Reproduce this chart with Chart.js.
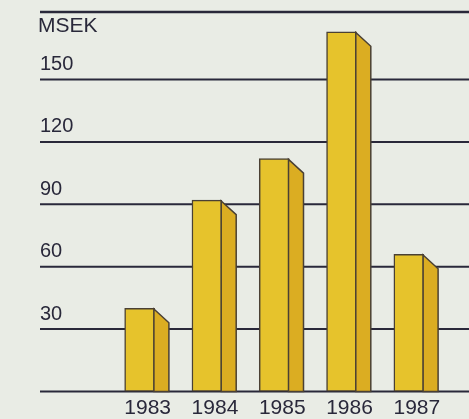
<!DOCTYPE html>
<html>
<head>
<meta charset="utf-8">
<script src="https://cdn.jsdelivr.net/npm/chart.js@4/dist/chart.umd.min.js"></script>
<style>
  html, body { margin: 0; padding: 0; background: #e9ece5; }
  canvas { display: block; }
</style>
</head>
<body>
<canvas id="chart" width="469" height="419"></canvas>
<script>
// Annual figures, MSEK
const years = ['1983', '1984', '1985', '1986', '1987'];
const salesMsek = [40, 92, 112, 173, 66];
const tickValues = [30, 60, 90, 120, 150];
const unitLabel = 'MSEK';

const INK = '#29283a';
const FRONT = '#e6c32c';
const SIDE = '#dbad22';
const EDGE = '#4a4034';
const FONT = '"Liberation Sans", Arial, sans-serif';
const DEPTH_X = 15;
const DEPTH_Y = 14.5;

// Horizontal rules (gridlines, baseline, header rule) and the unit label, behind the bars
const rules = {
  id: 'rules',
  beforeDatasetsDraw(chart) {
    const { ctx, scales: { y }, chartArea, width } = chart;
    const x0 = y.left;
    ctx.save();
    ctx.strokeStyle = INK;
    const line = (py, lw) => {
      ctx.lineWidth = lw;
      ctx.beginPath();
      ctx.moveTo(x0, py);
      ctx.lineTo(width, py);
      ctx.stroke();
    };
    tickValues.forEach(v => line(y.getPixelForValue(v), 2));
    line(y.getPixelForValue(0), 2);
    line(chartArea.top, 2.5);
    ctx.fillStyle = INK;
    ctx.font = '21px ' + FONT;
    ctx.textAlign = 'left';
    ctx.textBaseline = 'alphabetic';
    ctx.fillText(unitLabel, x0 - 2, 32);
    ctx.restore();
  }
};

// Shaded side face giving each bar its depth
const sideFaces = {
  id: 'sideFaces',
  afterDatasetsDraw(chart) {
    const { ctx } = chart;
    const meta = chart.getDatasetMeta(0);
    ctx.save();
    ctx.fillStyle = SIDE;
    ctx.strokeStyle = EDGE;
    ctx.lineWidth = 1.5;
    ctx.lineJoin = 'miter';
    meta.data.forEach(bar => {
      const { x, y, base, width } = bar.getProps(['x', 'y', 'base', 'width'], true);
      const r = x + width / 2 - 0.75;
      ctx.beginPath();
      ctx.moveTo(r, y + 0.75);
      ctx.lineTo(r + DEPTH_X, y + DEPTH_Y);
      ctx.lineTo(r + DEPTH_X, base);
      ctx.lineTo(r, base);
      ctx.closePath();
      ctx.fill();
      ctx.stroke();
    });
    ctx.restore();
  }
};

new Chart(document.getElementById('chart'), {
  type: 'bar',
  data: {
    labels: years,
    datasets: [{
      data: salesMsek,
      backgroundColor: FRONT,
      borderColor: EDGE,
      borderWidth: 1.5,
      borderSkipped: false,
      barThickness: 30
    }]
  },
  options: {
    responsive: false,
    animation: false,
    devicePixelRatio: 1,
    layout: { padding: { left: 40, right: 26.5, top: 12, bottom: 0 } },
    plugins: { legend: { display: false }, tooltip: { enabled: false } },
    scales: {
      x: {
        grid: { display: false, drawTicks: false },
        border: { display: false },
        ticks: {
          color: INK,
          font: { family: FONT, size: 21 },
          padding: 4,
          labelOffset: 8,
          maxRotation: 0
        },
        afterFit(scale) { scale.height = 27.5; }
      },
      y: {
        min: 0,
        max: 182.5,
        grid: { display: false, drawTicks: false },
        border: { display: false },
        afterBuildTicks(scale) { scale.ticks = tickValues.map(v => ({ value: v })); },
        ticks: {
          color: INK,
          font: { family: FONT, size: 20 },
          crossAlign: 'far',
          padding: 0,
          labelOffset: -15
        },
        afterFit(scale) { scale.width = 66; }
      }
    }
  },
  plugins: [rules, sideFaces]
});
</script>
</body>
</html>
